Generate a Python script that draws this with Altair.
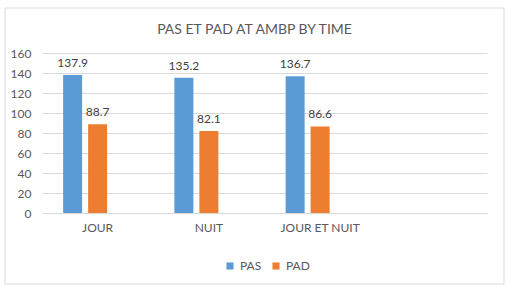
import altair as alt
import pandas as pd

categories = ["JOUR", "NUIT", "JOUR ET NUIT"]
pas_values = [137.9, 135.2, 136.7]
pad_values = [88.7, 82.1, 86.6]
series = ["PAS", "PAD"]
colors = ["#5B9BD5", "#ED7D31"]
x_domain = categories + [" "]
offset_domain = series + ["_"]
y_ticks = [0, 20, 40, 60, 80, 100, 120, 140, 160]

rows = []
for c, a, b in zip(categories, pas_values, pad_values):
    rows.append({"cat": c, "serie": "PAS", "val": a})
    rows.append({"cat": c, "serie": "PAD", "val": b})
df = pd.DataFrame(rows)

FONT = "Lato"
GREY = "#595959"

x = alt.X("cat:N", sort=x_domain,
          scale=alt.Scale(domain=x_domain, paddingInner=0, paddingOuter=0),
          axis=alt.Axis(title=None, labelAngle=0, ticks=False, domainColor="#d9d9d9",
                        labelPadding=9, labelColor=GREY, labelFontSize=12, labelFont=FONT))
xoff = alt.XOffset("serie:N",
                   scale=alt.Scale(domain=offset_domain, paddingInner=0.24, paddingOuter=0.845))
y = alt.Y("val:Q", scale=alt.Scale(domain=[0, 160]),
          axis=alt.Axis(title=None, values=y_ticks, domain=False, ticks=False, gridColor="#d9d9d9",
                        labelPadding=11, labelColor=GREY, labelFontSize=12, labelFont=FONT))

bars = alt.Chart(df).mark_bar().encode(
    x=x, xOffset=xoff, y=y,
    color=alt.Color("serie:N", scale=alt.Scale(domain=series, range=colors),
                    legend=alt.Legend(title=None, orient="none", direction="horizontal",
                                      legendX=182, legendY=207, symbolType="square",
                                      symbolSize=50, symbolStrokeWidth=0, labelFontSize=12,
                                      labelFont=FONT, labelColor=GREY, columnPadding=8)),
)

labels = alt.Chart(df).mark_text(dy=-5, baseline="bottom", fontSize=12, font=FONT,
                                 color="#404040").encode(
    x=x, xOffset=xoff, y=y, text=alt.Text("val:Q", format=".1f"))

frame = alt.Chart(pd.DataFrame({"a": [0]})).mark_rect(
    fill="transparent", stroke="#d9d9d9", strokeWidth=1).encode(
    x=alt.value(-37), x2=alt.value(462), y=alt.value(-45), y2=alt.value(231))

chart = alt.layer(frame, bars, labels).properties(
    width=445, height=160,
    title=alt.TitleParams("PAS ET PAD AT AMBP BY TIME", fontSize=14, font=FONT, color=GREY,
                          fontWeight="normal", offset=-29, dx=-10),
    autosize=alt.AutoSizeParams(type="none"),
    padding={"left": 42, "top": 53, "right": 25, "bottom": 78},
    background="white",
).configure_view(stroke=None)

chart.save("out.html", embed_options={"renderer": "svg", "actions": False})
